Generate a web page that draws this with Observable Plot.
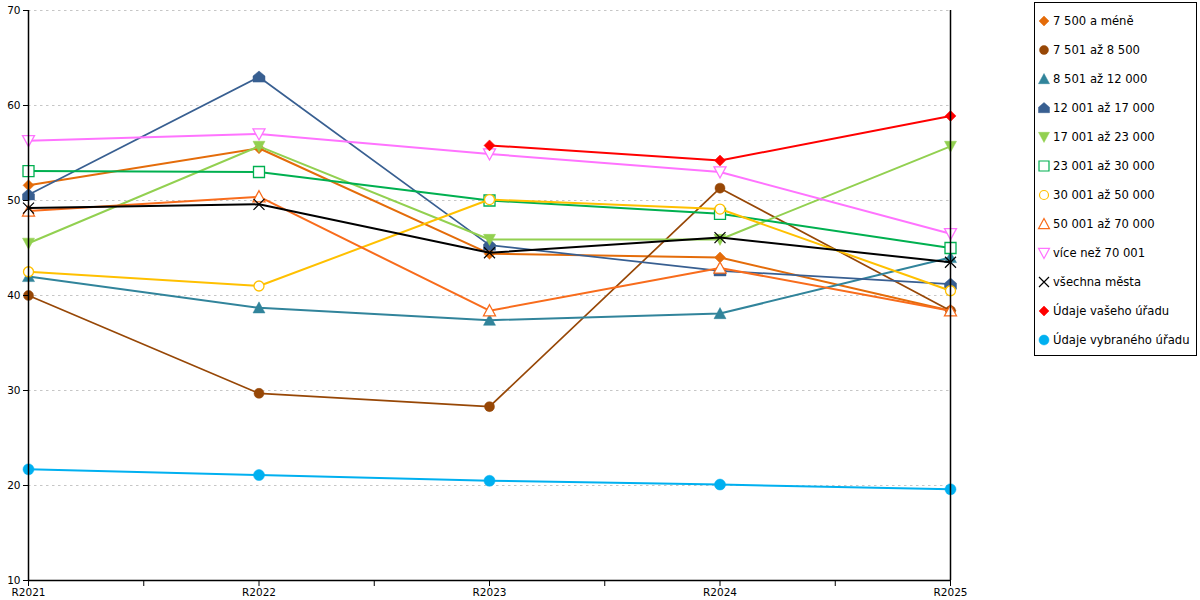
<!DOCTYPE html>
<html>
<head>
<meta charset="utf-8">
<script src="https://cdn.jsdelivr.net/npm/d3@7"></script>
<script src="https://cdn.jsdelivr.net/npm/@observablehq/plot@0.6"></script>
<style>
  html, body { margin: 0; padding: 0; background: #fff; }
  #wrap { position: relative; width: 1200px; height: 600px; font-family: "DejaVu Sans", sans-serif; }
  #chart { position: absolute; left: 0; top: 0; }
  #legend { position: absolute; left: 1034px; top: 2px; width: 163px; height: 354px; border: 1px solid #000; box-sizing: border-box; background: #fff; }
  .item { position: absolute; left: 0; height: 20px; display: flex; align-items: center; font-size: 11.6px; color: #000; white-space: nowrap; }
  .item svg { margin-left: 2px; margin-right: 2px; }
</style>
</head>
<body>
<div id="wrap"><div id="chart"></div><div id="legend"></div></div>
<script>
const categories = ["R2021", "R2022", "R2023", "R2024", "R2025"];
const seriesNames = [
  "7 500 a méně", "7 501 až 8 500", "8 501 až 12 000", "12 001 až 17 000",
  "17 001 až 23 000", "23 001 až 30 000", "30 001 až 50 000", "50 001 až 70 000",
  "více než 70 001", "všechna města", "Údaje vašeho úřadu", "Údaje vybraného úřadu"
];
const s1 = [51.6, 55.5, 44.4, 44.0, 38.4];
const s2 = [40.0, 29.7, 28.3, 51.3, 38.4];
const s3 = [42.0, 38.7, 37.4, 38.1, 44.0];
const s4 = [50.6, 63.0, 45.3, 42.6, 41.2];
const s5 = [45.5, 55.7, 45.9, 45.9, 55.7];
const s6 = [53.1, 53.0, 50.0, 48.6, 45.0];
const s7 = [42.5, 41.0, 50.1, 49.1, 40.5];
const s8 = [48.9, 50.4, 38.4, 42.9, 38.4];
const s9 = [56.3, 57.0, 54.9, 53.0, 46.5];
const s10 = [49.2, 49.6, 44.5, 46.1, 43.5];
const s11 = [null, null, 55.8, 54.2, 58.9];
const s12 = [21.7, 21.1, 20.5, 20.1, 19.6];
const seriesValues = [s1, s2, s3, s4, s5, s6, s7, s8, s9, s10, s11, s12];
const yTicks = [10, 20, 30, 40, 50, 60, 70];
const gridTicks = [20, 30, 40, 50, 60, 70];

// custom symbols (r derived from size = r*r*PI)
const R = size => Math.sqrt(size / Math.PI);
const symDiamond = {draw(c, s) { const r = R(s); c.moveTo(0, -r); c.lineTo(r, 0); c.lineTo(0, r); c.lineTo(-r, 0); c.closePath(); }};
const symCircle = {draw(c, s) { const r = R(s); c.moveTo(r, 0); c.arc(0, 0, r, 0, 2 * Math.PI); c.closePath(); }};
const symTriUp = {draw(c, s) { const r = R(s); c.moveTo(0, -r); c.lineTo(r, r * 0.85); c.lineTo(-r, r * 0.85); c.closePath(); }};
const symTriDown = {draw(c, s) { const r = R(s); c.moveTo(0, r); c.lineTo(r, -r * 0.85); c.lineTo(-r, -r * 0.85); c.closePath(); }};
const symHouse = {draw(c, s) { const r = R(s); c.moveTo(0, -r); c.lineTo(r, -r * 0.15); c.lineTo(r, r * 0.85); c.lineTo(-r, r * 0.85); c.lineTo(-r, -r * 0.15); c.closePath(); }};
const symSquare = {draw(c, s) { const r = R(s); c.moveTo(-r, -r); c.lineTo(r, -r); c.lineTo(r, r); c.lineTo(-r, r); c.closePath(); }};
const symX = {draw(c, s) { const r = R(s); c.moveTo(-r, -r); c.lineTo(r, r); c.moveTo(r, -r); c.lineTo(-r, r); }};

const styles = [
  {color: "#E46C0A", sym: symDiamond, r: 5.5, hollow: false, w: 2},
  {color: "#974706", sym: symCircle, r: 5, hollow: false, w: 1.7},
  {color: "#31849B", sym: symTriUp, r: 6, hollow: false, w: 2},
  {color: "#385F91", sym: symHouse, r: 6, hollow: false, w: 1.7},
  {color: "#92D050", sym: symTriDown, r: 6, hollow: false, w: 2},
  {color: "#00B050", sym: symSquare, r: 5.5, hollow: true, w: 2},
  {color: "#FFC000", sym: symCircle, r: 5, hollow: true, w: 2},
  {color: "#F86C1C", sym: symTriUp, r: 6, hollow: true, w: 2},
  {color: "#FF73FF", sym: symTriDown, r: 6, hollow: true, w: 2},
  {color: "#000000", sym: symX, r: 5.5, hollow: false, x: true, w: 2},
  {color: "#FF0000", sym: symDiamond, r: 5.5, hollow: false, w: 2},
  {color: "#00B0F0", sym: symCircle, r: 5.5, hollow: false, w: 2}
];

const marks = [
  Plot.ruleY(gridTicks, {stroke: "#c6c6c6", strokeDasharray: "2.5,3.5", strokeWidth: 1})
];
seriesValues.forEach((vals, k) => {
  const st = styles[k];
  const data = vals.map((v, i) => ({i, v})).filter(d => d.v != null);
  marks.push(Plot.line(data, {x: "i", y: "v", stroke: st.color, strokeWidth: st.w, curve: "linear"}));
  marks.push(Plot.dot(data, {
    x: "i", y: "v", r: st.r, symbol: st.sym,
    fill: st.x ? "none" : (st.hollow ? "white" : st.color),
    stroke: st.color,
    strokeWidth: st.hollow ? 1.3 : (st.x ? 1.2 : 0.5)
  }));
});
marks.push(
  Plot.ruleX([0], {stroke: "#000", strokeWidth: 1.5}),
  Plot.ruleX([4], {stroke: "#000", strokeWidth: 1.5}),
  Plot.ruleY([10], {stroke: "#000", strokeWidth: 1.5}),
  Plot.axisY({ticks: yTicks, tickSize: 5, tickPadding: 3, tickFormat: d => String(d), fontSize: 10.5, stroke: "#000"}),
  Plot.axisX({ticks: d3.range(0, 4.01, 0.5), tickSize: 6, tickPadding: 2,
    tickFormat: d => Number.isInteger(d) ? categories[d] : "", fontSize: 10.5, stroke: "#000"})
);

const chart = Plot.plot({
  width: 1000, height: 600,
  marginLeft: 28, marginRight: 50, marginTop: 10, marginBottom: 20,
  x: {domain: [0, 4], label: null},
  y: {domain: [10, 70], label: null},
  style: {fontFamily: "DejaVu Sans, sans-serif", color: "#000", background: "white", overflow: "visible"},
  marks
});
document.getElementById("chart").appendChild(chart);

// legend
const legend = d3.select("#legend");
seriesNames.forEach((name, k) => {
  const st = styles[k];
  const item = legend.append("div").attr("class", "item").style("top", (8 + k * 29) + "px");
  const svg = item.append("svg").attr("width", 14).attr("height", 14).attr("viewBox", "-7 -7 14 14");
  const r = st.r - 0.5;
  svg.append("path")
    .attr("d", d3.symbol(st.sym, r * r * Math.PI)())
    .attr("fill", st.x ? "none" : (st.hollow ? "white" : st.color))
    .attr("stroke", st.color)
    .attr("stroke-width", st.hollow ? 1.2 : (st.x ? 1.2 : 0.5));
  item.append("span").text(name);
});
</script>
</body>
</html>
